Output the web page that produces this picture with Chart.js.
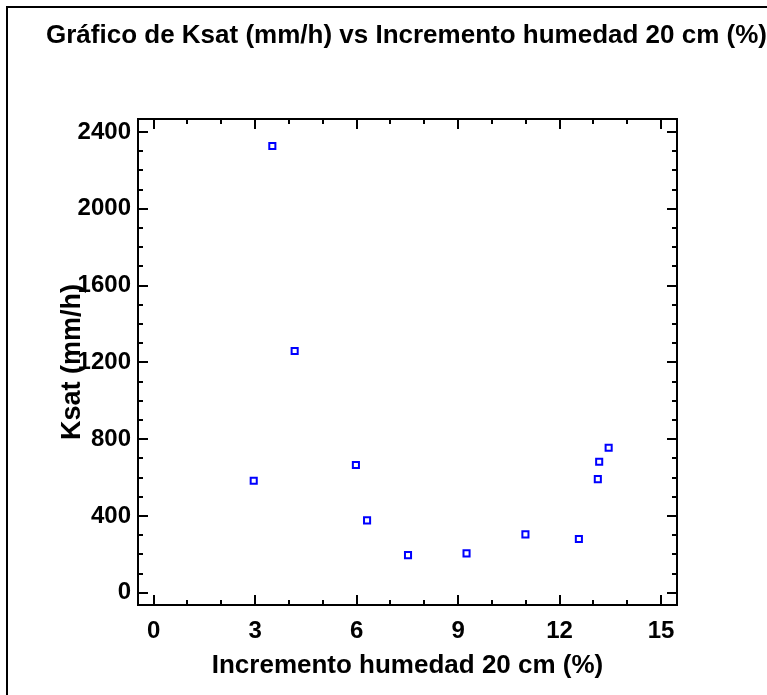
<!DOCTYPE html>
<html>
<head>
<meta charset="utf-8">
<script src="https://cdn.jsdelivr.net/npm/chart.js@4"></script>
<style>
  html, body { margin: 0; padding: 0; background: #fff; }
  canvas { display: block; }
</style>
</head>
<body>
<canvas id="chart" width="767" height="695"></canvas>
<script>
// 🔹 DATA
const humedad = [2.96, 3.51, 4.17, 5.98, 6.31, 7.52, 9.25, 10.99, 12.57, 13.13, 13.17, 13.45];
const ksat = [583, 2327, 1259, 665, 377, 196, 205, 304, 280, 592, 682, 755];

const xTicks = [0, 3, 6, 9, 12, 15];
const yTicks = [0, 400, 800, 1200, 1600, 2000, 2400];
const xMinorStep = 1;
const yMinorStep = 100;

const chartTitle = "Gráfico de Ksat (mm/h) vs Incremento humedad 20 cm (%)";
const xTitle = "Incremento humedad 20 cm (%)";
const yTitle = "Ksat (mm/h)";

const FONT = "'Liberation Sans', Arial, sans-serif";

// 🔥 FRAME + TITLE + INSIDE TICKS
const framePlugin = {
    id: "frame",
    afterDraw(chart) {
        const ctx = chart.ctx;
        const area = chart.chartArea;
        const xs = chart.scales.x;
        const ys = chart.scales.y;

        ctx.save();
        ctx.strokeStyle = "#000";
        ctx.lineWidth = 2;

        // outer frame (runs off the right / bottom edge)
        ctx.strokeRect(7, 7, 800, 720);

        // plot box
        ctx.strokeRect(area.left, area.top, area.right - area.left, area.bottom - area.top);

        // x ticks (bottom + top, pointing in)
        for (let v = xTicks[0]; v <= xTicks[xTicks.length - 1]; v += xMinorStep) {
            const px = Math.round(xs.getPixelForValue(v));
            const len = xTicks.includes(v) ? 10 : 5;
            ctx.beginPath();
            ctx.moveTo(px, area.bottom);
            ctx.lineTo(px, area.bottom - len);
            ctx.moveTo(px, area.top);
            ctx.lineTo(px, area.top + len);
            ctx.stroke();
        }

        // y ticks (left + right, pointing in)
        for (let v = yTicks[0]; v <= yTicks[yTicks.length - 1]; v += yMinorStep) {
            const py = Math.round(ys.getPixelForValue(v));
            const len = yTicks.includes(v) ? 10 : 5;
            ctx.beginPath();
            ctx.moveTo(area.left, py);
            ctx.lineTo(area.left + len, py);
            ctx.moveTo(area.right, py);
            ctx.lineTo(area.right - len, py);
            ctx.stroke();
        }

        // main title
        ctx.fillStyle = "#000";
        ctx.font = "bold 26px " + FONT;
        ctx.textAlign = "left";
        ctx.textBaseline = "middle";
        ctx.fillText(chartTitle, 46, 36);
        ctx.restore();
    }
};

// 🔁 RUN
new Chart(document.getElementById("chart"), {
    type: "scatter",
    data: {
        datasets: [{
            label: yTitle,
            data: humedad.map((x, i) => ({ x: x, y: ksat[i] })),
            pointStyle: "rect",
            pointRadius: 4.3,
            pointHoverRadius: 4.3,
            borderColor: "#0000ff",
            backgroundColor: "rgba(0,0,0,0)",
            pointBorderWidth: 2
        }]
    },
    options: {
        responsive: false,
        animation: false,
        events: [],
        layout: { padding: { top: 119, right: 90, left: 0, bottom: 0 } },
        plugins: {
            legend: { display: false },
            title: { display: false },
            tooltip: { enabled: false }
        },
        scales: {
            x: {
                type: "linear",
                min: -0.46,
                max: 15.47,
                afterBuildTicks: s => { s.ticks = xTicks.map(v => ({ value: v })); },
                afterFit: s => { s.height = 90; },
                grid: { display: false, drawTicks: false },
                border: { display: false },
                ticks: {
                    color: "#000",
                    padding: 12,
                    maxRotation: 0,
                    callback: v => String(v),
                    font: { family: FONT, size: 24, weight: "bold" }
                },
                title: {
                    display: true,
                    text: xTitle,
                    color: "#000",
                    padding: { top: 0, bottom: 14 },
                    font: { family: FONT, size: 26, weight: "bold" }
                }
            },
            y: {
                type: "linear",
                min: -64,
                max: 2468,
                afterBuildTicks: s => { s.ticks = yTicks.map(v => ({ value: v })); },
                afterFit: s => { s.width = 138; },
                grid: { display: false, drawTicks: false },
                border: { display: false },
                ticks: {
                    color: "#000",
                    padding: 7,
                    callback: v => String(v),
                    font: { family: FONT, size: 24, weight: "bold" }
                },
                title: {
                    display: true,
                    text: yTitle,
                    color: "#000",
                    padding: { top: 56, bottom: 0 },
                    font: { family: FONT, size: 27, weight: "bold" }
                }
            }
        }
    },
    plugins: [framePlugin]
});
</script>
</body>
</html>
